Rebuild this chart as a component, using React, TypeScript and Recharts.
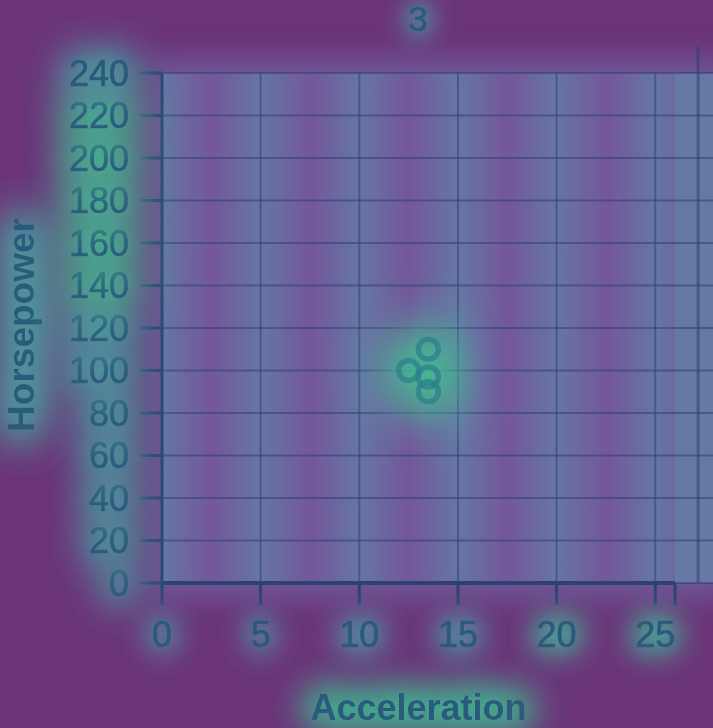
import React from 'react';
import { ScatterChart, Scatter, XAxis, YAxis, CartesianGrid, ReferenceLine, ReferenceArea } from 'recharts';

// cylinders = 3 cars
const acceleration = [13.5, 13.5, 13.5, 12.5];
const horsepower = [97, 90, 110, 100];
const xTicks = [0, 5, 10, 15, 20, 25, 26];
const xGrid = [0, 5, 10, 15, 20, 25];
const yTicks = [0, 20, 40, 60, 80, 100, 120, 140, 160, 180, 200, 220, 240];
const facetTitle = '3';

const cars = acceleration.map((a, i) => ({ acceleration: a, horsepower: horsepower[i] }));

const BG = '#6b3478';
const TEXT = '#2a5a7c';
const AXIS = '#2b4272';
const GRID = 'rgba(50, 62, 115, 0.55)';
const FONT = '"Liberation Sans", Arial, Helvetica, sans-serif';

// soft, round halo: blur, boost alpha, blur again
const Glow = ({ id, color, opacity, spread, blur, gain }: any) => (
  <filter id={id} filterUnits="userSpaceOnUse" x={-100} y={-100} width={913} height={928}>
    <feGaussianBlur in="SourceAlpha" stdDeviation={spread} result="a" />
    <feComponentTransfer in="a" result="a2">
      <feFuncA type="linear" slope={gain} />
    </feComponentTransfer>
    <feGaussianBlur in="a2" stdDeviation={blur} result="b" />
    <feFlood floodColor={color} floodOpacity={opacity} result="f" />
    <feComposite in="f" in2="b" operator="in" result="g" />
    <feMerge>
      <feMergeNode in="g" />
      <feMergeNode in="SourceGraphic" />
    </feMerge>
  </filter>
);

const XTick = (p: any) => {
  const v = p.payload.value;
  if (v === 26) return null;
  return (
    <text x={p.x} y={p.y} dy="0.71em" textAnchor="middle" fill={TEXT} stroke={TEXT} strokeWidth={0.7} fontSize={36} fontFamily={FONT} filter={v >= 20 ? 'url(#glowX2)' : 'url(#glowX)'}>
      {v}
    </text>
  );
};

const YTick = (p: any) => {
  const v = p.payload.value;
  return (
    <text x={p.x} y={p.y} dy="0.355em" textAnchor="end" fill={TEXT} stroke={TEXT} strokeWidth={0.7} fontSize={36} fontFamily={FONT} filter={v >= 140 && v <= 220 ? 'url(#glowY2)' : 'url(#glowY)'}>
      {v}
    </text>
  );
};

const Ring = (p: any) => (
  <circle cx={p.cx} cy={p.cy} r={10} fill="none" stroke="#2d808c" strokeOpacity={0.8} strokeWidth={5.5} />
);

const XLabel = (p: any) => {
  const vb = p.viewBox;
  return (
    <text x={vb.x + vb.width / 2} y={vb.y + vb.height - 8} textAnchor="middle" fill={TEXT} fontSize={36} fontWeight="bold" fontFamily={FONT} filter="url(#glowXL)">
      Acceleration
    </text>
  );
};

const YLabel = (p: any) => {
  const vb = p.viewBox;
  const x = vb.x - 28;
  const y = vb.y + vb.height / 2 - 3;
  return (
    <g filter="url(#glowYL)">
      <text x={x} y={y} transform={`rotate(-90, ${x}, ${y})`} textAnchor="middle" fill={TEXT} fontSize={37} fontWeight="bold" fontFamily={FONT}>
        Horsepower
      </text>
    </g>
  );
};

export default function App() {
  return (
    <div style={{ position: 'absolute', left: 0, top: 0, width: 713, height: 728, background: BG, overflow: 'hidden' }}>
      <style>{'.pts-glow { filter: url(#glowPt); }'}</style>
      <svg width={0} height={0} style={{ position: 'absolute' }}>
        <defs>
          <linearGradient id="stripes" gradientUnits="userSpaceOnUse" x1={162} y1={0} x2={260.65} y2={0} spreadMethod="repeat">
            <stop offset="0" stopColor="#6579a6" />
            <stop offset="0.5" stopColor="#74569b" />
            <stop offset="1" stopColor="#6579a6" />
          </linearGradient>
          <Glow id="glowY" color="#4b9ca2" opacity={1} spread={10} gain={8} blur={17} />
          <Glow id="glowY2" color="#45b592" opacity={1} spread={11} gain={9} blur={18} />
          <Glow id="glowX" color="#5097a8" opacity={0.85} spread={8} gain={6} blur={13} />
          <Glow id="glowX2" color="#47ad98" opacity={0.9} spread={8} gain={6} blur={13} />
          <Glow id="glowXL" color="#3fb58f" opacity={1} spread={10} gain={8} blur={16} />
          <Glow id="glowYL" color="#4aa2a2" opacity={1} spread={12} gain={8} blur={18} />
          <Glow id="glowPt" color="#42bd90" opacity={1} spread={16} gain={8} blur={20} />
          <Glow id="glowT" color="#4f98a8" opacity={0.85} spread={7} gain={6} blur={11} />
        </defs>
      </svg>
      <div style={{ position: 'absolute', left: 150, top: 58, width: 580, height: 540, background: '#6e5898', filter: 'blur(14px)' }} />
      <div style={{ position: 'absolute', left: 0, top: 0 }}>
        <ScatterChart width={713} height={728} margin={{ top: 73, right: 38, bottom: 0, left: 62 }}>
          <CartesianGrid fill="url(#stripes)" fillOpacity={0.9} stroke={GRID} strokeWidth={2} verticalValues={xGrid} />
          <ReferenceArea x1={26} x2={28.3} y1={0} y2={240} ifOverflow="visible" fill="#6482a9" fillOpacity={0.8} stroke="none" />
          {yTicks.map((v) => (
            <ReferenceLine key={v} segment={[{ x: 26, y: v }, { x: 28.3, y: v }]} ifOverflow="visible" stroke={GRID} strokeWidth={2} />
          ))}
          <ReferenceLine segment={[{ x: 27.17, y: 0 }, { x: 27.17, y: 252.5 }]} ifOverflow="visible" stroke={GRID} strokeWidth={3} />
          <XAxis
            type="number"
            dataKey="acceleration"
            domain={[0, 26]}
            ticks={xTicks}
            interval={0}
            height={145}
            tickSize={22}
            tickMargin={16}
            axisLine={{ stroke: AXIS, strokeWidth: 4 }}
            tickLine={{ stroke: AXIS, strokeWidth: 3 }}
            tick={<XTick />}
            label={{ content: XLabel }}
          />
          <YAxis
            type="number"
            dataKey="horsepower"
            domain={[0, 240]}
            ticks={yTicks}
            interval={0}
            width={100}
            tickSize={22}
            tickMargin={11}
            axisLine={{ stroke: AXIS, strokeWidth: 3 }}
            tickLine={{ stroke: AXIS, strokeWidth: 3 }}
            tick={<YTick />}
            label={{ content: YLabel }}
          />
          <Scatter className="pts-glow" data={cars} shape={Ring} isAnimationActive={false} />
        </ScatterChart>
      </div>
      <svg width={713} height={80} style={{ position: 'absolute', left: 0, top: 0 }}>
        <text x={418} y={31} textAnchor="middle" fill={TEXT} stroke={TEXT} strokeWidth={0.7} fontSize={35} fontFamily={FONT} filter="url(#glowT)">
          {facetTitle}
        </text>
      </svg>
    </div>
  );
}
